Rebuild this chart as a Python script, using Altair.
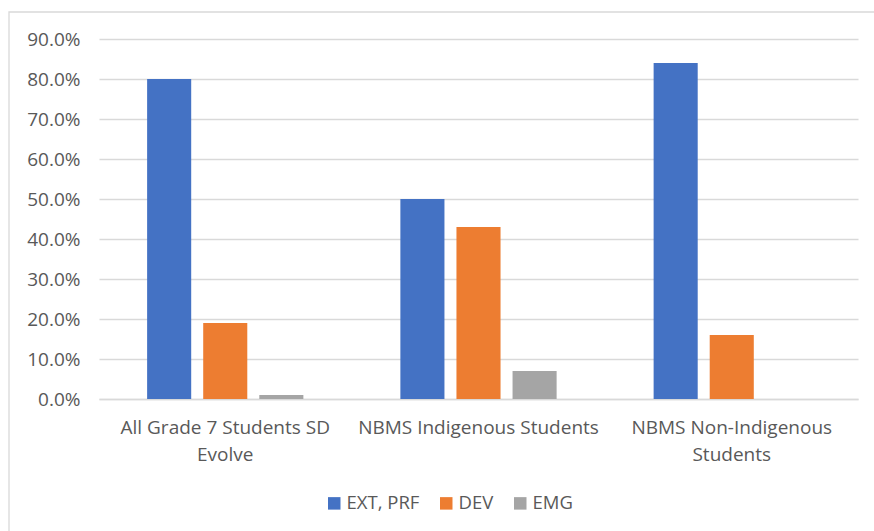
import altair as alt
import pandas as pd

categories = ["All Grade 7 Students SD Evolve", "NBMS Indigenous Students", "NBMS Non-Indigenous Students"]
label_lines = [["All Grade 7 Students SD", "Evolve"], ["NBMS Indigenous Students"], ["NBMS Non-Indigenous", "Students"]]
series = ["EXT, PRF", "DEV", "EMG"]
ext_prf = [0.80, 0.50, 0.84]
dev = [0.19, 0.43, 0.16]
emg = [0.01, 0.07, 0.0]
colors = ["#4472C4", "#ED7D31", "#A5A5A5"]
y_ticks = [0.0, 0.1, 0.2, 0.3, 0.4, 0.5, 0.6, 0.7, 0.8, 0.9]

rows = []
for i, c in enumerate(categories):
    for s, vals in zip(series, [ext_prf, dev, emg]):
        rows.append({"category": c, "series": s, "value": vals[i]})
df = pd.DataFrame(rows)

label_expr = ""
for c, lines in zip(categories, label_lines):
    arr = "[" + ", ".join("'" + l + "'" for l in lines) + "]"
    label_expr += f"datum.value == '{c}' ? {arr} : "
label_expr += "datum.label"

FONT = "Open Sans"
TXT = "#595959"
GRID = "#d9d9d9"

bars = alt.Chart(df).mark_bar().encode(
    x=alt.X("category:N", sort=categories, title=None,
            scale=alt.Scale(paddingInner=0.383, paddingOuter=0.19),
            axis=alt.Axis(labelAngle=0, labelExpr=label_expr, labelFont=FONT,
                          labelFontSize=19, labelColor=TXT, labelPadding=19,
                          labelLineHeight=27, labelBaseline="top", grid=False,
                          ticks=False, domain=True, domainColor=GRID, domainWidth=1.3,
                          labelLimit=400)),
    xOffset=alt.XOffset("series:N", sort=series,
                        scale=alt.Scale(paddingInner=0.214, paddingOuter=0)),
    y=alt.Y("value:Q", title=None,
            scale=alt.Scale(domain=[0, 0.9], nice=False),
            axis=alt.Axis(values=y_ticks, format=".1%", labelFont=FONT,
                          labelFontSize=19, labelColor=TXT, labelPadding=19,
                          ticks=False, domain=False, grid=True, gridColor=GRID,
                          gridWidth=1.3)),
    color=alt.Color("series:N", sort=series,
                    scale=alt.Scale(domain=series, range=colors),
                    legend=alt.Legend(title=None, orient="none", direction="horizontal",
                                      legendX=226, legendY=455, symbolType="square",
                                      symbolSize=156, symbolStrokeWidth=0,
                                      labelFont=FONT, labelFontSize=18.5,
                                      labelColor=TXT, labelOffset=3,
                                      columnPadding=17, padding=0)),
)

border = alt.Chart(pd.DataFrame({"a": [0]})).mark_rect(
    fill=None, stroke=GRID, strokeWidth=1.3, clip=False
).encode(
    x=alt.value(-90), x2=alt.value(800), y=alt.value(-27), y2=alt.value(520)
)

chart = alt.layer(border, bars).properties(
    width=759, height=360,
    background="white",
    autosize=alt.AutoSizeParams(type="none"),
    padding={"left": 99, "top": 39, "right": 16, "bottom": 132},
).configure_view(stroke=None, strokeWidth=0)

chart.save("out.html", embed_options={"renderer": "svg", "actions": False})
